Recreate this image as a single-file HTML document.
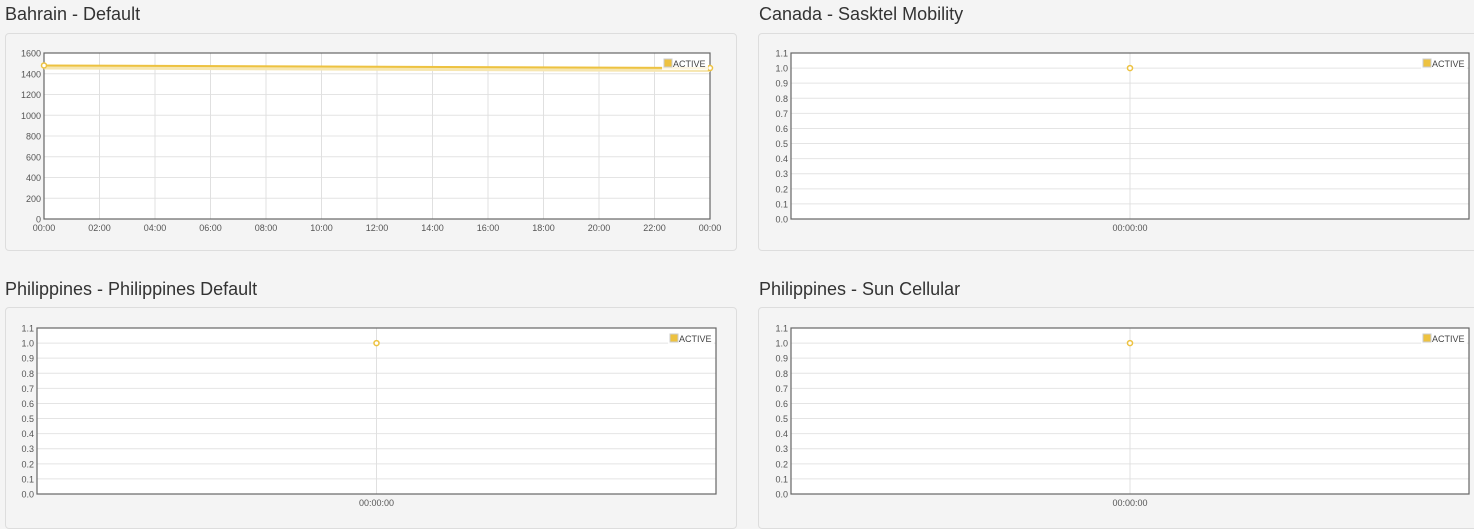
<!DOCTYPE html>
<html><head><meta charset="utf-8"><style>
body{margin:0;background:#f4f4f4;font-family:"Liberation Sans",sans-serif;width:1474px;height:514px;overflow:hidden;position:relative}
.title{position:absolute;font-size:18px;color:#333}
.card{position:absolute;background:#f4f4f4;border:1px solid #ddd;border-radius:4px}
svg{position:absolute;left:0;top:0}
</style></head><body>
<div class="title" style="left:5px;top:4px">Bahrain - Default</div>
<div class="title" style="left:759px;top:4px">Canada - Sasktel Mobility</div>
<div class="title" style="left:5px;top:279px">Philippines - Philippines Default</div>
<div class="title" style="left:759px;top:279px">Philippines - Sun Cellular</div>
<div class="card" style="left:5px;top:33px;width:730px;height:216px"></div>
<div class="card" style="left:758px;top:33px;width:720px;height:216px"></div>
<div class="card" style="left:5px;top:307px;width:730px;height:220px"></div>
<div class="card" style="left:758px;top:307px;width:720px;height:220px"></div>
<svg id="s" width="1474" height="514"></svg>
<script>
const bahrainTimes=[0,24];
const bahrainValues=[1480,1455];
const bahrainXTicks=["00:00","02:00","04:00","06:00","08:00","10:00","12:00","14:00","16:00","18:00","20:00","22:00","00:00"];
const bahrainYTicks=[0,200,400,600,800,1000,1200,1400,1600];
const singleYTicks=[0.0,0.1,0.2,0.3,0.4,0.5,0.6,0.7,0.8,0.9,1.0,1.1];
const canadaValues=[1.0];
const philDefaultValues=[1.0];
const sunValues=[1.0];
const singleXLabel="00:00:00";
const NS="http://www.w3.org/2000/svg";
const svg=document.getElementById('s');
function el(t,a,p){const e=document.createElementNS(NS,t);for(const k in a)e.setAttribute(k,a[k]);(p||svg).appendChild(e);return e;}
function chart(name,L,T,R,B,ymax,yTicks,yFmt,xTicks,xs,vals,xmax){
  const g=el('g',{});
  
  
  el('rect',{x:L,y:T,width:R-L,height:B-T,fill:'#fff'},g);
  const X=v=>L+(R-L)*v/xmax, Y=v=>B-(B-T)*v/ymax;
  yTicks.forEach(v=>{
    el('line',{x1:L,x2:R,y1:Y(v),y2:Y(v),stroke:'#e4e4e4'},g);
    const t=el('text',{x:L-3,y:Y(v)+3.5,'text-anchor':'end','font-size':9,fill:'#555'},g);t.textContent=yFmt(v);
    
    
  });
  xTicks.forEach((lab,i)=>{
    const xv=xTicks.length>1?i*xmax/(xTicks.length-1):xmax/2;
    el('line',{x1:X(xv),x2:X(xv),y1:T,y2:B,stroke:'#e0e0e0'},g);
    const t=el('text',{x:X(xv),y:B+12,'text-anchor':'middle','font-size':9,fill:'#555'},g);t.textContent=lab;
    
    
  });
  el('rect',{x:L,y:T,width:R-L,height:B-T,fill:'none',stroke:'#666','stroke-width':1.2},g);
  if(vals.length>1){
    const pts=vals.map((v,i)=>X(xs[i])+','+Y(v)).join(' ');
    el('polyline',{points:pts.split(' ').map(p=>{const[a,b]=p.split(',');return a+','+(+b+2)}).join(' '),fill:'none',stroke:'#f6e6b0','stroke-width':4},g);
    const pl=el('polyline',{points:pts,fill:'none',stroke:'#edc240','stroke-width':2},g);
    
    
  }
  vals.forEach((v,i)=>{
    const c=el('circle',{cx:X(xs[i]),cy:Y(v),r:2.5,fill:'#fff',stroke:'#edc240','stroke-width':1.5},g);
    
    
  });
  const lg=el('g',{},g);
  
  
  el('rect',{x:R-48,y:T+5,width:46,height:12,fill:'#fff',opacity:0.85},lg);
  el('rect',{x:R-46,y:T+6,width:8,height:8,fill:'#edc240',stroke:'#ccc'},lg);
  const lt=el('text',{x:R-37,y:T+14,'font-size':9,fill:'#444'},lg);lt.textContent='ACTIVE';
}
chart('chart-bahrain',44,53,710,219,1600,bahrainYTicks,v=>v,bahrainXTicks,bahrainTimes,bahrainValues,24);
chart('chart-canada',791,53,1469,219,1.1,singleYTicks,v=>v.toFixed(1),[singleXLabel],[0.5],canadaValues,1);
chart('chart-philippines-default',37,328,716,494,1.1,singleYTicks,v=>v.toFixed(1),[singleXLabel],[0.5],philDefaultValues,1);
chart('chart-sun-cellular',791,328,1469,494,1.1,singleYTicks,v=>v.toFixed(1),[singleXLabel],[0.5],sunValues,1);
</script>
</body></html>
